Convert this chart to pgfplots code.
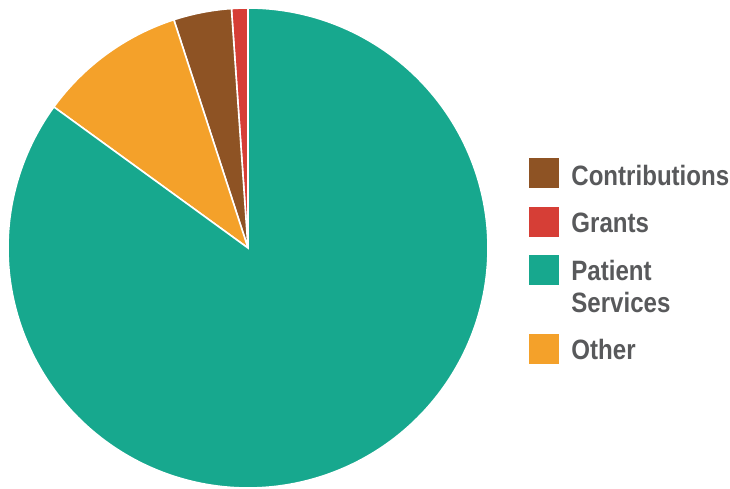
\documentclass[border=0pt]{standalone}
\usepackage{pgfplots}
\pgfplotsset{compat=1.18}
\usepackage{fontspec}
\setmainfont{Liberation Sans}
\newfontfamily\legfont{Liberation Sans Bold}[FakeStretch=0.86]
\definecolor{cbrown}{HTML}{8E5324}
\definecolor{cred}{HTML}{D63E36}
\definecolor{cteal}{HTML}{17A88E}
\definecolor{corange}{HTML}{F4A12A}
\definecolor{ctext}{HTML}{58595B}
\begin{document}
\begin{tikzpicture}
% values (percent), in drawing order counter-clockwise from 12 o'clock
\def\vGrants{1.1}
\def\vContrib{3.9}
\def\vOther{10.0}
\def\vPatient{85.0}
\pgfmathsetmacro{\aA}{90}
\pgfmathsetmacro{\aB}{\aA+3.6*\vGrants}
\pgfmathsetmacro{\aC}{\aB+3.6*\vContrib}
\pgfmathsetmacro{\aD}{\aC+3.6*\vOther}
\pgfmathsetmacro{\aE}{\aD+3.6*\vPatient}
\begin{axis}[hide axis, scale only axis, width=365pt, height=244pt,
  xmin=0, xmax=730, ymin=0, ymax=488, clip=false]
\path (0,0) rectangle (730,488);
\addplot[fill=cred, draw=white, line width=0.8pt, domain=\aA:\aB, samples=5]
  ({248+240*cos(x)},{240+240*sin(x)}) -- (248,240) -- cycle;
\addplot[fill=cbrown, draw=white, line width=0.8pt, domain=\aB:\aC, samples=15]
  ({248+240*cos(x)},{240+240*sin(x)}) -- (248,240) -- cycle;
\addplot[fill=corange, draw=white, line width=0.8pt, domain=\aC:\aD, samples=40]
  ({248+240*cos(x)},{240+240*sin(x)}) -- (248,240) -- cycle;
\addplot[fill=cteal, draw=white, line width=0.8pt, domain=\aD:\aE, samples=300]
  ({248+240*cos(x)},{240+240*sin(x)}) -- (248,240) -- cycle;
% legend
\fill[cbrown] (529,300) rectangle (559,330);
\fill[cred] (529,251) rectangle (559,281);
\fill[cteal] (529,203) rectangle (559,233);
\fill[corange] (529,124) rectangle (559,154);
\begin{scope}[every node/.style={anchor=base west, inner sep=0pt, text=ctext, font=\legfont\fontsize{14pt}{16pt}\selectfont}]
\node at (571,302.5) {Contributions};
\node at (571,255) {Grants};
\node at (571,207) {Patient};
\node at (571,175) {Services};
\node at (571,128) {Other};
\end{scope}
\end{axis}
\end{tikzpicture}
\end{document}
